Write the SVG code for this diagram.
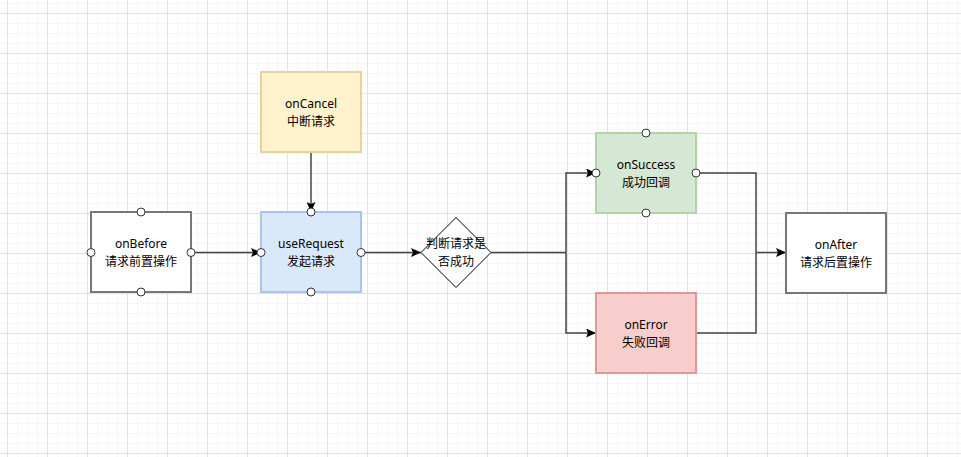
<svg xmlns="http://www.w3.org/2000/svg" width="961" height="457" viewBox="0 0 961 457">
<defs>
<pattern id="minor" x="7" y="3" width="10" height="10" patternUnits="userSpaceOnUse">
<path d="M0 0.5H10M0.5 0V10" fill="none" stroke="#f6f6f6" stroke-width="1"/>
</pattern>
<pattern id="major" x="7" y="13" width="40" height="40" patternUnits="userSpaceOnUse">
<path d="M0 0.5H40M0.5 0V40" fill="none" stroke="#e2e2e2" stroke-width="1"/>
</pattern>
<marker id="arr" viewBox="0 0 10 9" refX="10" refY="4.5" markerWidth="10" markerHeight="9" markerUnits="userSpaceOnUse" orient="auto">
<path d="M0 0L10 4.5L0 9L2 4.5Z" fill="#000"/>
</marker>
</defs>
<style>
.box{stroke-width:2}
.t{font-family:"Noto Sans","Noto Sans CJK SC",sans-serif;font-size:12px;fill:#000;text-anchor:middle}
.c{fill:#fff;stroke:#333;stroke-width:1}
.ln{fill:none;stroke:#444;stroke-width:1.5}
</style>
<rect width="961" height="457" fill="#fff"/>
<rect width="961" height="457" fill="url(#minor)"/>
<rect width="961" height="457" fill="url(#major)"/>

<g id="connectors">
<path class="ln" d="M191 252.5H261" marker-end="url(#arr)"/>
<path class="ln" d="M311 153V212" marker-end="url(#arr)"/>
<path class="ln" d="M361 252.5H421" marker-end="url(#arr)"/>
<path class="ln" d="M491 252.5H566"/>
<path class="ln" d="M566 252.5V173H596" marker-end="url(#arr)"/>
<path class="ln" d="M566 252.5V333H596" marker-end="url(#arr)"/>
<path class="ln" d="M696 173H756V252.5"/>
<path class="ln" d="M696 333H756V252.5"/>
<path class="ln" d="M756 252.5H786" marker-end="url(#arr)"/>
</g>

<g id="onBefore">
<rect class="box" x="91" y="212" width="100" height="80" fill="#fff" stroke="#777"/>
<text class="t" x="141" y="248">onBefore</text>
<text class="t" x="141" y="266">请求前置操作</text>
<circle class="c" cx="141" cy="212" r="4"/>
<circle class="c" cx="141" cy="292" r="4"/>
<circle class="c" cx="91" cy="252.5" r="4"/>
<circle class="c" cx="191" cy="252.5" r="4"/>
</g>

<g id="onCancel">
<rect class="box" x="261" y="72" width="100" height="80" fill="#fff2cc" stroke="#e6d29a"/>
<text class="t" x="311" y="108">onCancel</text>
<text class="t" x="311" y="126">中断请求</text>
</g>

<g id="useRequest">
<rect class="box" x="261" y="212" width="100" height="80" fill="#dae8fc" stroke="#a9c4eb"/>
<text class="t" x="311" y="248">useRequest</text>
<text class="t" x="311" y="266">发起请求</text>
<circle class="c" cx="311" cy="212" r="4"/>
<circle class="c" cx="311" cy="292" r="4"/>
<circle class="c" cx="261" cy="252.5" r="4"/>
<circle class="c" cx="361" cy="252.5" r="4"/>
</g>

<g id="decision">
<path d="M456 217.5L491 252.5L456 287.5L421 252.5Z" fill="#fff" stroke="#000" stroke-width="1"/>
<text class="t" x="456" y="248">判断请求是</text>
<text class="t" x="456" y="266">否成功</text>
</g>

<g id="onSuccess">
<rect class="box" x="596" y="133" width="100" height="80" fill="#d5e8d4" stroke="#b4d2a6"/>
<text class="t" x="646" y="169">onSuccess</text>
<text class="t" x="646" y="187">成功回调</text>
<circle class="c" cx="646" cy="133" r="4"/>
<circle class="c" cx="646" cy="213" r="4"/>
<circle class="c" cx="596" cy="173" r="4"/>
<circle class="c" cx="696" cy="173" r="4"/>
</g>

<g id="onError">
<rect class="box" x="596" y="293" width="100" height="80" fill="#f8cecc" stroke="#d99a98"/>
<text class="t" x="646" y="329">onError</text>
<text class="t" x="646" y="347">失败回调</text>
</g>

<g id="onAfter">
<rect class="box" x="786" y="213" width="100" height="80" fill="#fff" stroke="#777"/>
<text class="t" x="836" y="249">onAfter</text>
<text class="t" x="836" y="267">请求后置操作</text>
</g>
</svg>
